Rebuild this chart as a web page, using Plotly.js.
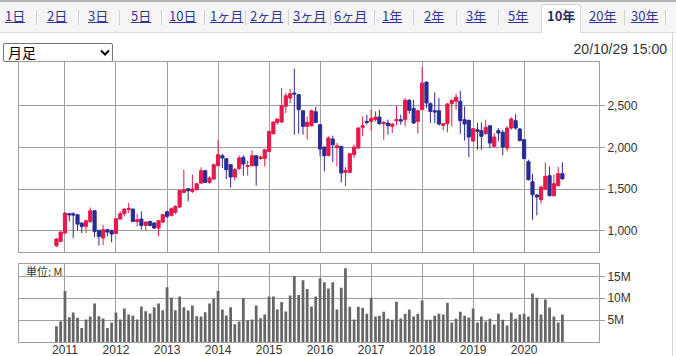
<!DOCTYPE html>
<html><head><meta charset="utf-8">
<script src="https://cdn.plot.ly/plotly-3.0.1.min.js"></script>
<style>
html,body{margin:0;padding:0;width:676px;height:356px;overflow:hidden;background:#fff;font-family:"Noto Sans CJK JP",sans-serif;}
#bar{position:absolute;left:0;top:0;width:676px;height:33px;background:#f5f5f7;border-top:2px solid #b4b4b4;border-bottom:1px solid #dcdcdc;box-sizing:border-box;}
.tab{position:absolute;top:7px;font-size:13px;line-height:18px;color:#333399;text-decoration:underline;white-space:nowrap;}
.sep{position:absolute;top:10px;width:1px;height:15px;background:#d4d4d4;}
#seltab{position:absolute;left:541px;top:4px;width:40px;height:29px;background:#fff;border:1px solid #d4d4d4;border-bottom:none;border-radius:3px 3px 0 0;box-sizing:border-box;}
#sel{position:absolute;left:3px;top:43px;width:110px;height:19px;border:1px solid #767676;border-radius:2px;box-sizing:border-box;font-size:14px;line-height:17px;padding-left:4px;color:#000;background:#fff;}
#sel svg{position:absolute;left:96px;top:5px;}
#date{position:absolute;right:9px;top:41px;font-family:"Liberation Sans",Arial,sans-serif;font-size:14px;color:#333;}
#rb{position:absolute;left:672px;top:33px;width:1px;height:323px;background:#d4d4d4;}
#chart{position:absolute;left:0;top:0;width:676px;height:356px;}
</style>
</head>
<body>
<div id="bar"></div>
<div id="seltab"></div>
<div id="tabs"></div>
<div id="sel">月足<svg width="10" height="8" viewBox="0 0 10 8"><polyline points="1,1.5 5,5.5 9,1.5" fill="none" stroke="#000" stroke-width="2"/></svg></div>
<div id="date">20/10/29 15:00</div>
<div id="rb"></div>
<div id="chart"></div>
<script>
// ---- tab labels ----
const tabLabels = ["1日","2日","3日","5日","10日","1ヶ月","2ヶ月","3ヶ月","6ヶ月","1年","2年","3年","5年","10年","20年","30年"];
const tabLeft = [5,47,88,131,169,210,250,293,334,382,424,466,508,547,589,631];
const sepLeft = [36,78,119,161,204,245,288,330,374,413,456,498,624,665];
const tabsDiv = document.getElementById('tabs');
tabLabels.forEach((t,i)=>{
  const s=document.createElement('span');
  s.className='tab'; s.textContent=t; s.style.left=tabLeft[i]+'px';
  if(t==='10年'){s.style.fontWeight='bold';s.style.textDecoration='none';s.style.color='#2a2a66';}
  tabsDiv.appendChild(s);
});
sepLeft.forEach(x=>{const d=document.createElement('div');d.className='sep';d.style.left=x+'px';tabsDiv.appendChild(d);});

// ---- data (monthly, Nov 2010 .. Oct 2020) ----
const startYear = 2010, startMonth = 11, nMonths = 120;
const months = [];
for(let k=0;k<nMonths;k++){
  const m0 = startMonth-1+k;
  const y = startYear + Math.floor(m0/12), m = m0%12+1;
  months.push(y+'-'+String(m).padStart(2,'0')+'-01');
}
const yearTickVals = ['2011-01-01','2012-01-01','2013-01-01','2014-01-01','2015-01-01','2016-01-01','2017-01-01','2018-01-01','2019-01-01','2020-01-01'];
const yearTickText = ['2011','2012','2013','2014','2015','2016','2017','2018','2019','2020'];
const open = [819,872,972,1204,1204,1192,1092,1052,1112,1240,
1004,912,1012,1004,968,1140,1204,1256,1260,1112,
1140,1064,1112,1092,1032,1104,1228,1184,1220,1285,
1461,1505,1473,1493,1573,1722,1581,1622,1782,1902,
1866,1794,1646,1746,1882,1774,1782,1902,1870,1870,
1954,2167,2303,2307,2496,2596,2656,2636,2443,2255,
2263,2431,2275,2006,1906,2103,1998,2014,1702,1702,
1914,1994,2243,2315,2315,2335,2367,2287,2295,2255,
2323,2335,2335,2568,2472,2315,2456,2788,2528,2443,
2443,2267,2287,2528,2556,2556,2335,2327,2079,2215,
2203,2167,2263,2014,2203,2183,1994,2235,2323,2223,
2095,1830,1589,1429,1373,1501,1662,1421,1541,1686];
const high = [912,992,1220,1216,1220,1196,1100,1132,1280,1244,
1012,1072,1016,1012,1152,1232,1268,1333,1268,1204,
1232,1112,1120,1100,1124,1204,1240,1280,1305,1493,
1734,1513,1674,1573,1762,1734,1654,1806,2095,1922,
1874,1800,1754,1906,1906,1842,1966,1906,1902,1982,
2200,2315,2347,2716,2656,2704,2949,2640,2447,2375,
2456,2488,2279,2010,2135,2143,2054,2018,1766,1930,
2034,2243,2375,2395,2456,2435,2456,2323,2335,2295,
2504,2395,2596,2584,2576,2456,2969,2792,2544,2664,
2596,2291,2536,2576,2648,2684,2496,2335,2235,2295,
2303,2335,2267,2175,2235,2215,2255,2367,2403,2235,
2099,1854,1686,1441,1541,1822,1774,1674,1766,1822];
const low = [803,860,964,1112,912,1004,972,972,1092,924,
820,828,932,860,964,1132,1172,1212,1104,1052,
1012,1004,1052,1020,932,1092,1152,1172,1204,1273,
1453,1353,1453,1485,1565,1573,1565,1614,1774,1754,
1621,1521,1605,1734,1662,1662,1774,1541,1854,1774,
1950,2155,2275,2295,2415,2536,2155,2167,2155,2095,
2255,2295,1894,1714,1894,1822,1774,1581,1533,1694,
1874,1982,2135,2275,2207,2315,2275,2095,2155,2175,
2267,2275,2255,2407,2287,2167,2447,2476,2295,2295,
2263,2207,2183,2255,2456,2167,2083,1886,2066,1974,
1974,2155,1994,2006,2075,1906,1954,2215,2215,2075,
1862,1605,1132,1184,1325,1493,1413,1413,1533,1613];
const close = [900,984,1212,1192,1188,1080,1052,1120,1240,992,
932,1012,984,960,1144,1204,1260,1268,1112,1132,
1064,1104,1064,1032,1120,1192,1172,1264,1292,1485,
1493,1481,1501,1565,1722,1581,1634,1794,1914,1874,
1734,1646,1734,1874,1802,1782,1902,1782,1886,1974,
2195,2307,2343,2504,2624,2648,2644,2456,2255,2303,
2443,2303,1982,1902,2115,2034,2022,1694,1726,1926,
2006,2235,2263,2303,2351,2367,2287,2299,2263,2283,
2335,2319,2568,2448,2295,2443,2776,2536,2435,2427,
2283,2287,2524,2568,2604,2323,2283,2127,2227,2195,
2135,2243,2054,2127,2175,2006,2235,2343,2235,2083,
1866,1613,1433,1405,1525,1654,1421,1565,1686,1625];
// volume in millions of shares
const volume = [3.6,4.75,11.65,5.67,6.74,5.52,3.22,5.13,5.82,8.81,
5.9,5.36,3.22,4.44,6.74,5.13,7.66,6.28,6.05,5.13,
8.12,7.05,6.51,7.97,8.81,7.28,12.49,10.19,7.28,10.42,
7.97,7.2,8.35,5.9,5.82,6.82,8.81,9.81,11.65,7.43,
6.05,7.97,4.06,4.67,10.04,4.98,5.13,8.35,5.44,6.28,
10.42,10.42,7.43,9.12,6.97,10.65,15.1,10.73,14.1,12.11,
8.12,10.42,14.56,13.64,12.26,13.64,7.43,12.41,16.86,8.05,
5.13,8.05,7.82,6.44,10.11,5.82,5.98,6.9,5.29,5.06,
9.2,5.36,6.44,7.43,5.82,6.44,9.5,5.06,5.06,5.98,
6.44,6.28,8.97,4.44,5.29,6.9,5.98,5.59,7.66,4.44,
5.82,4.67,5.29,3.98,6.44,5.06,3.75,6.74,5.29,6.28,
6.44,5.82,11.11,10.11,6.28,9.73,7.89,5.82,4.44,6.28];
const priceTicks = [1000,1500,2000,2500];
const volTicks = [5,10,15];
const volTickText = ["5M","10M","15M"];

const UP = '#e6194b', DN = '#2b2b95', GRID = '#a0a0a0';
const tickFont = {family:'"Liberation Sans", Arial, sans-serif', size:12, color:'#333'};

const traces = [
  {type:'candlestick', x:months, open:open, high:high, low:low, close:close,
   xaxis:'x', yaxis:'y', whiskerwidth:0, hoverinfo:'skip',
   increasing:{line:{color:UP,width:1}, fillcolor:UP},
   decreasing:{line:{color:DN,width:1}, fillcolor:DN}},
  {type:'bar', x:months, y:volume, xaxis:'x', yaxis:'y2',
   marker:{color:'#666666', line:{width:0}}, hoverinfo:'skip'}
];
const layout = {
  width:676, height:356,
  margin:{l:19, r:77, t:62, b:14},
  paper_bgcolor:'rgba(0,0,0,0)', plot_bgcolor:'rgba(0,0,0,0)',
  showlegend:false, bargap:0.3, boxgap:0.1, boxgroupgap:0.1,
  xaxis:{type:'date', anchor:'y2', range:['2010-02-06','2021-06-20'],
    tickmode:'array', tickvals:yearTickVals, ticktext:yearTickText, ticks:'',
    ticklabelstandoff:-3,
    showgrid:true, gridcolor:GRID, gridwidth:1,
    showline:true, linecolor:GRID, linewidth:1, mirror:'all',
    rangeslider:{visible:false}, tickfont:tickFont, fixedrange:true},
  yaxis:{domain:[0.3214,1], range:[744,3029], side:'right',
    tickvals:priceTicks, tickformat:',d', ticks:'outside', ticklen:5, tickcolor:GRID,
    showgrid:true, gridcolor:GRID, zeroline:false,
    showline:true, linecolor:GRID, mirror:true, tickfont:tickFont, fixedrange:true},
  yaxis2:{domain:[0,0.2796], range:[0,17.9], side:'right',
    tickvals:volTicks, ticktext:volTickText, ticks:'outside', ticklen:5, tickcolor:GRID,
    showgrid:true, gridcolor:GRID, zeroline:false,
    showline:true, linecolor:GRID, mirror:true, tickfont:tickFont, fixedrange:true},
  annotations:[{text:'単位: M', xref:'paper', yref:'paper', x:0.008, y:0.254,
    xanchor:'left', yanchor:'middle', showarrow:false,
    font:{family:'"Noto Sans CJK JP", sans-serif', size:11, color:'#333'}}]
};
Plotly.newPlot('chart', traces, layout, {staticPlot:true, displayModeBar:false});
</script>
</body></html>
